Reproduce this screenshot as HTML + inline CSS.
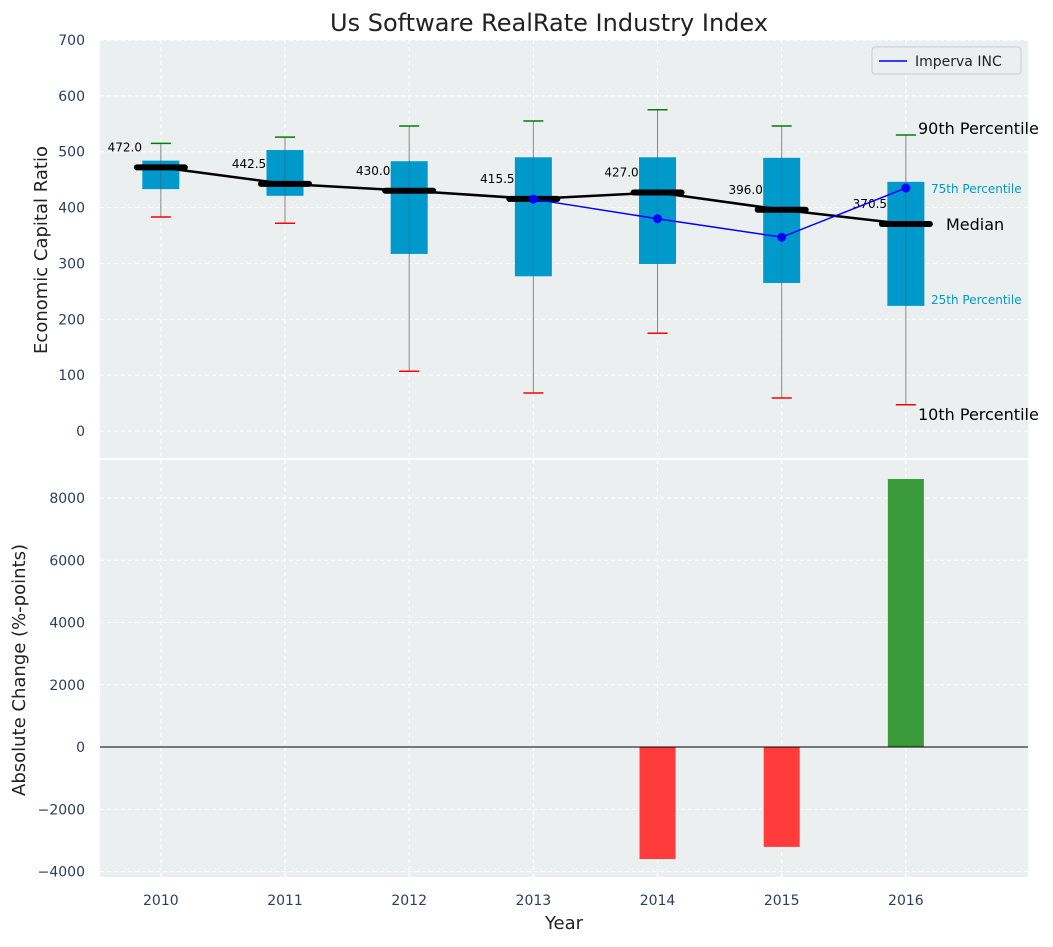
<!DOCTYPE html>
<html><head><meta charset="utf-8">
<style>
body{margin:0;background:#fff;font-family:"Liberation Sans","DejaVu Sans",sans-serif;}
svg text{font-family:"DejaVu Sans","Liberation Sans",sans-serif;}
</style></head>
<body>
<svg id="c" width="1053" height="942" xmlns="http://www.w3.org/2000/svg"></svg>
<script>
const years=[2010,2011,2012,2013,2014,2015,2016];
const p10=[383,372,107,68,175,59,47];
const p25=[433,421,317,277,299,265,224];
const med=[472.0,442.5,430.0,415.5,427.0,396.0,370.5];
const p75=[484,503,483,490,490,489,446];
const p90=[515,526,546,555,575,546,530];
const impYears=[2013,2014,2015,2016];
const impVals=[415,380,347,435];
const chgYears=[2014,2015,2016];
const chgVals=[-3600,-3210,8610];
const topTicks=[0,100,200,300,400,500,600,700];
const botTicks=[-4000,-2000,0,2000,4000,6000,8000];

const svg=document.getElementById('c');
const NS='http://www.w3.org/2000/svg';
function el(t,a,txt){const e=document.createElementNS(NS,t);for(const k in a)e.setAttribute(k,a[k]);if(txt!==undefined)e.textContent=txt;svg.appendChild(e);return e;}
const X=v=>100+(v-2009.51)*124.17;
const YT=v=>431-v*0.5586;
const YB=v=>747-v*0.031125;
const tc='#2a3f5f';

let r;
r=el('rect',{x:100,y:40,width:928,height:418,fill:'#ebeff0'});

r=el('rect',{x:100,y:460,width:928,height:417,fill:'#ebeff0'});


// grids
years.forEach(y=>{
  let g=el('line',{x1:X(y),x2:X(y),y1:40,y2:458,stroke:'#fff','stroke-dasharray':'4,3','stroke-width':1});
  
  g=el('line',{x1:X(y),x2:X(y),y1:460,y2:877,stroke:'#fff','stroke-dasharray':'4,3','stroke-width':1});
  
  const t=el('text',{x:X(y),y:905,'text-anchor':'middle','font-size':14,fill:tc},y);
  
});
topTicks.forEach(v=>{
  const g=el('line',{x1:100,x2:1028,y1:YT(v),y2:YT(v),stroke:'#fff','stroke-dasharray':'4,3'});
  
  const t=el('text',{x:85,y:YT(v)+5,'text-anchor':'end','font-size':14,fill:tc},v);
  
});
botTicks.forEach(v=>{
  const g=el('line',{x1:100,x2:1028,y1:YB(v),y2:YB(v),stroke:'#fff','stroke-dasharray':'4,3'});
  
  const t=el('text',{x:85,y:YB(v)+5,'text-anchor':'end','font-size':14,fill:tc},v<0?'\u2212'+(-v):v);
  
});

// boxes
years.forEach((y,i)=>{
  const cx=X(y),w=37;
  let e=el('line',{x1:cx,x2:cx,y1:YT(p90[i]),y2:YT(p10[i]),stroke:'#888','stroke-width':1});
  
  e=el('rect',{x:cx-w/2,y:YT(p75[i]),width:w,height:YT(p25[i])-YT(p75[i]),fill:'#0099cc'});
  
  e=el('line',{x1:cx,x2:cx,y1:YT(p75[i]),y2:YT(p25[i]),stroke:'#555','stroke-width':0.8,opacity:0.6});
  
  e=el('line',{x1:cx-10,x2:cx+10,y1:YT(p90[i]),y2:YT(p90[i]),stroke:'green','stroke-width':1.5});
  
  e=el('line',{x1:cx-10,x2:cx+10,y1:YT(p10[i]),y2:YT(p10[i]),stroke:'red','stroke-width':1.5});
  
});
// median line
let d=years.map((y,i)=>(i?'L':'M')+X(y)+','+YT(med[i])).join(' ');
let e=el('path',{d:d,fill:'none',stroke:'#000','stroke-width':2.5});

years.forEach((y,i)=>{
  let m=el('line',{x1:X(y)-24,x2:X(y)+24,y1:YT(med[i]),y2:YT(med[i]),stroke:'#000','stroke-width':6,'stroke-linecap':'round'});
  
  m=el('text',{x:X(y)-36,y:YT(med[i])-20+4,'text-anchor':'middle','font-size':12,fill:'#000'},med[i].toFixed(1));
  
});
// imperva
d=impYears.map((y,i)=>(i?'L':'M')+X(y)+','+YT(impVals[i])).join(' ');
e=el('path',{d:d,fill:'none',stroke:'blue','stroke-width':1.5});

impYears.forEach((y,i)=>{
  const c=el('circle',{cx:X(y),cy:YT(impVals[i]),r:4.5,fill:'blue'});
  
});
// annotations
const ax=X(2016);
[['90th Percentile',918,134,16,'#000'],['75th Percentile',931,193,12,'#0099cc'],['Median',946,230,16,'#000'],['25th Percentile',931,304,12,'#0099cc'],['10th Percentile',918,420,16,'#000']].forEach(a=>{
  const t=el('text',{x:a[1],y:a[2],'font-size':a[3],fill:a[4]},a[0]);
  
});
// legend
e=el('rect',{x:872,y:47,width:149,height:27,rx:3,fill:'#ebeff0',stroke:'#ccc'});

e=el('line',{x1:879,x2:907,y1:61,y2:61,stroke:'blue','stroke-width':1.5});

e=el('text',{x:915,y:66,'font-size':14,fill:'#222'},'Imperva INC');


// bars
chgYears.forEach((y,i)=>{
  const v=chgVals[i];
  const b=el('rect',{x:X(y)-18,y:Math.min(YB(v),YB(0)),width:36,height:Math.abs(YB(v)-YB(0)),fill:v<0?'#ff3b3b':'#3a9a3a'});
  
});
e=el('line',{x1:100,x2:1028,y1:YB(0),y2:YB(0),stroke:'#000','stroke-width':1});


// titles
e=el('text',{x:549,y:31,'text-anchor':'middle','font-size':24,fill:'#222'},'Us Software RealRate Industry Index');

e=el('text',{x:0,y:0,'text-anchor':'middle','font-size':18,fill:'#222',transform:'translate(47,250) rotate(-90)'},'Economic Capital Ratio');

e=el('text',{x:0,y:0,'text-anchor':'middle','font-size':18,fill:'#222',transform:'translate(25,670) rotate(-90)'},'Absolute Change (%-points)');

e=el('text',{x:564,y:929,'text-anchor':'middle','font-size':18,fill:'#222'},'Year');

</script>
</body></html>
